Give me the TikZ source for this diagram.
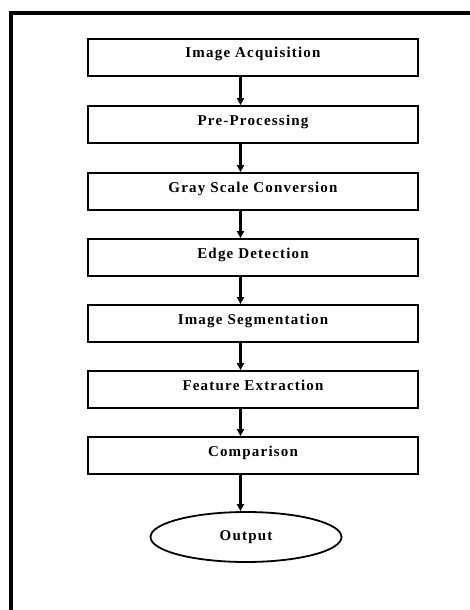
\documentclass[tikz,border=0pt]{standalone}
\usepackage{fontspec}
\setmainfont{Liberation Serif}
\newfontfamily\stagefont[LetterSpace=8]{Liberation Serif}
\usetikzlibrary{shapes.geometric,arrows.meta}

\begin{document}
\begin{tikzpicture}[x=1pt,y=-1pt,
  stage/.style={draw,line width=1.8pt,minimum width=330pt,minimum height=37pt,
    inner sep=0pt,text height=10pt,text depth=9pt,
    font=\stagefont\bfseries\fontsize{15}{17}\selectfont},
  flow/.style={line width=2.2pt,-{Triangle[length=7pt,width=7pt]}}]
\useasboundingbox (0,0) rectangle (470,610);
% page frame, cut off on the right and at the bottom
\draw[line width=4pt] (10.5,614) -- (10.5,13.5) -- (474,13.5);

\node[stage] (acq) at (253,57.5) {Image Acquisition};
\node[stage] (pre) at (253,124.5) {Pre-Processing};
\node[stage] (gray) at (253,191.5) {Gray Scale Conversion};
\node[stage] (edge) at (253,257.5) {Edge Detection};
\node[stage] (seg) at (253,323.5) {Image Segmentation};
\node[stage] (feat) at (253,389.5) {Feature Extraction};
\node[stage] (cmp) at (253,455.5) {Comparison};
\node[draw,ellipse,line width=1.8pt,minimum width=191pt,minimum height=50pt,
  inner sep=0pt,font=\stagefont\bfseries\fontsize{15}{17}\selectfont] (out) at (246,537) {Output};

\draw[flow] ([xshift=-12.5pt]acq.south) -- ([xshift=-12.5pt]pre.north);
\draw[flow] ([xshift=-12.5pt]pre.south) -- ([xshift=-12.5pt]gray.north);
\draw[flow] ([xshift=-12.5pt]gray.south) -- ([xshift=-12.5pt]edge.north);
\draw[flow] ([xshift=-12.5pt]edge.south) -- ([xshift=-12.5pt]seg.north);
\draw[flow] ([xshift=-12.5pt]seg.south) -- ([xshift=-12.5pt]feat.north);
\draw[flow] ([xshift=-12.5pt]feat.south) -- ([xshift=-12.5pt]cmp.north);
\draw[flow] ([xshift=-12.5pt]cmp.south) -- ([xshift=-5.5pt]out.north);
\end{tikzpicture}
\end{document}
